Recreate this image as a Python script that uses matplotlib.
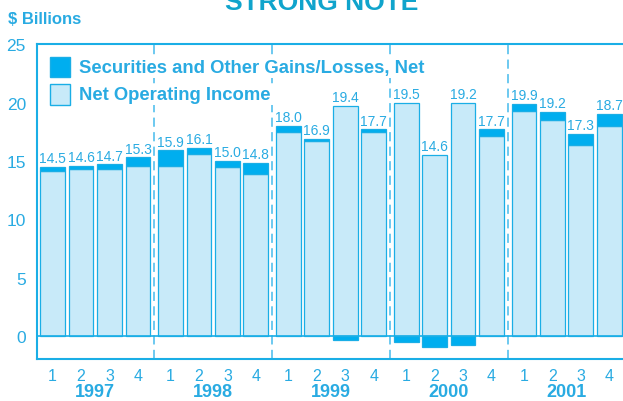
import numpy as np
import matplotlib
matplotlib.use("Agg")
import matplotlib.pyplot as plt
from matplotlib.patches import Rectangle
from matplotlib.transforms import blended_transform_factory

plt.rcParams['font.family'] = ['Liberation Sans', 'DejaVu Sans']

years = ['1997', '1998', '1999', '2000', '2001']
quarters = ['1', '2', '3', '4']
operating = [14.1, 14.3, 14.3, 14.6,
             14.6, 15.6, 14.5, 13.9,
             17.5, 16.7, 19.7, 17.5,
             20.0, 15.5, 20.0, 17.1,
             19.3, 18.5, 16.4, 18.0]
gains = [0.4, 0.3, 0.4, 0.7,
         1.3, 0.5, 0.5, 0.9,
         0.5, 0.2, -0.3, 0.2,
         -0.5, -0.9, -0.8, 0.6,
         0.6, 0.7, 0.9, 1.0]
totals = ['14.5', '14.6', '14.7', '15.3',
          '15.9', '16.1', '15.0', '14.8',
          '18.0', '16.9', '19.4', '17.7',
          '19.5', '14.6', '19.2', '17.7',
          '19.9', '19.2', '17.3', '18.7']
legend_labels = ['Securities and Other Gains/Losses, Net', 'Net Operating Income']

DARK = '#00aeef'
LIGHT = '#c8eaf9'
EDGE = '#1aaee6'
TEXT = '#29abe2'

W, H = 623, 402
fig = plt.figure(figsize=(W / 100, H / 100), dpi=100)
ax = fig.add_axes([37 / W, 1 - 360 / H, 1 - 37 / W, 315 / H])

stride = 4.14
op = np.array(operating)
g = np.array(gains)
x = np.array([yi * stride + q for yi in range(len(years)) for q in range(len(quarters))])
bw = 0.87

ax.bar(x, op, width=bw, color=LIGHT, edgecolor=EDGE, linewidth=0.9, zorder=3)
gb = np.where(g > 0, op, 0)
ax.bar(x, g, bottom=gb, width=bw, color=DARK, edgecolor=EDGE, linewidth=0.9, zorder=3)

tops = np.maximum(op, op + g)
for xi, t, lab in zip(x, tops, totals):
    ax.annotate(lab, (xi, t), xytext=(0, 3.5), textcoords='offset points',
                ha='center', va='baseline', fontsize=10, color=TEXT)

ax.axhline(0, color=EDGE, lw=1.2, zorder=4)

# year dividers
for yi in range(1, len(years)):
    xd = (x[yi * 4 - 1] + x[yi * 4]) / 2
    ax.axvline(xd, color='#45bbec', lw=1.1, dashes=(6, 3.5), zorder=2)

ax.set_xlim(-0.55, x[-1] + 0.48)
ax.set_ylim(-1.97, 25.02)

for s in ['left', 'top', 'bottom']:
    ax.spines[s].set_color(EDGE)
    ax.spines[s].set_linewidth(1.5)
ax.spines['right'].set_visible(False)

ax.set_yticks([0, 5, 10, 15, 20, 25])
ax.set_yticklabels(['0', '5', '10', '15', '20', '25'])
ax.tick_params(axis='y', length=0, pad=8, labelsize=12.5, labelcolor=TEXT)
ax.set_xticks([])

tr = blended_transform_factory(ax.transData, fig.transFigure)
for xi, q in zip(x, quarters * len(years)):
    ax.text(xi, 1 - 381 / H, q, transform=tr, ha='center', va='baseline',
            fontsize=11.5, color=TEXT)
for yi, yr in enumerate(years):
    xc = x[yi * 4:(yi + 1) * 4].mean()
    ax.text(xc, 1 - 397.5 / H, yr, transform=tr, ha='center', va='baseline',
            fontsize=13, fontweight='bold', color=TEXT)

# legend
for (y0, fc), lab in zip([(57.5, DARK), (85, LIGHT)], legend_labels):
    fig.add_artist(Rectangle((50.5 / W, 1 - (y0 + 20.5) / H), 19.5 / W, 20.5 / H,
                             transform=fig.transFigure, facecolor=fc,
                             edgecolor=EDGE, linewidth=1.0, zorder=5))
    fig.text(79 / W, 1 - (y0 + 10.5) / H, lab, ha='left', va='center',
             fontsize=13.3, fontweight='bold', color=TEXT, zorder=5,
             bbox=dict(facecolor='white', edgecolor='none', pad=1.5))

fig.text(8 / W, 1 - 24 / H, '$ Billions', ha='left', va='baseline',
         fontsize=12, fontweight='bold', color=TEXT)
fig.text(321.5 / W, 1 - 10 / H, 'STRONG NOTE', ha='center', va='baseline',
         fontsize=19, fontweight='bold', color='#10a4cc')

fig.savefig('out.png', dpi=100)
